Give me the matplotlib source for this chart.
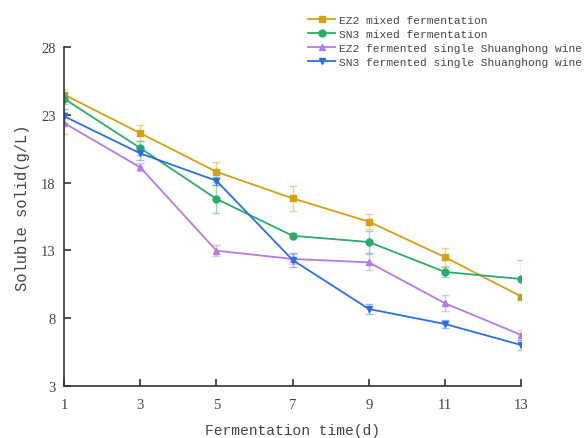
import matplotlib
matplotlib.use("Agg")
import matplotlib.pyplot as plt

days = [1, 3, 5, 7, 9, 11, 13]
ez2_mixed = [24.5, 21.65, 18.8, 16.84, 15.12, 12.5, 9.6]
ez2_mixed_err = [0.4, 0.6, 0.75, 0.9, 0.55, 0.65, 0.2]
sn3_mixed = [24.2, 20.55, 16.8, 14.08, 13.62, 11.41, 10.89]
sn3_mixed_err = [0.4, 0.5, 1.05, 0.2, 0.8, 0.4, 1.4]
ez2_single = [22.4, 19.13, 12.98, 12.37, 12.12, 9.1, 6.76]
ez2_single_err = [0.8, 0.3, 0.4, 0.4, 0.6, 0.6, 0.4]
sn3_single = [22.9, 20.16, 18.14, 12.29, 8.68, 7.57, 6.02]
sn3_single_err = [0.5, 0.5, 0.3, 0.5, 0.4, 0.3, 0.4]

labels = ["EZ2 mixed fermentation", "SN3 mixed fermentation",
          "EZ2 fermented single Shuanghong wine", "SN3 fermented single Shuanghong wine"]
colors = ["#D4A017", "#2EAA6A", "#B57BE3", "#2C6FE0"]
markers = ["s", "o", "^", "v"]

xticks = [1, 3, 5, 7, 9, 11, 13]
yticks = [3, 8, 13, 18, 23, 28]

fig = plt.figure(figsize=(5.87, 4.39), dpi=100)
ax = fig.add_axes([0.109, 0.1185, 0.779, 0.772])

series = [(ez2_mixed, ez2_mixed_err), (sn3_mixed, sn3_mixed_err),
          (ez2_single, ez2_single_err), (sn3_single, sn3_single_err)]
handles = []
for (vals, err), c, m, lab in zip(series, colors, markers, labels):
    ax.errorbar(days, vals, yerr=err, fmt="none", ecolor=c, alpha=0.45,
                elinewidth=1.0, capsize=3, capthick=1.0)
    h, = ax.plot(days, vals, color=c, marker=m, markersize=5, linewidth=1.3, label=lab)
    handles.append(h)

ax.set_xlim(1, 13)
ax.set_ylim(3, 28)
ax.set_xticks(xticks)
ax.set_yticks(yticks)
ax.spines["top"].set_visible(False)
ax.spines["right"].set_visible(False)
for s in ["left", "bottom"]:
    ax.spines[s].set_linewidth(1.2)
    ax.spines[s].set_color("#333333")
ax.tick_params(direction="in", length=5, width=1.2, color="#333333",
               labelsize=10.5, labelcolor="#444444")
ax.tick_params(axis="x", pad=9)
ax.tick_params(axis="y", pad=6)
for t in ax.get_xticklabels() + ax.get_yticklabels():
    t.set_family("Liberation Serif")

ax.set_xlabel("Fermentation time(d)", family="Liberation Mono", fontsize=10.5,
              color="#444444", labelpad=8)
ax.set_ylabel("Soluble solid(g/L)", family="Liberation Mono", fontsize=11.2,
              color="#444444")
ax.yaxis.set_label_coords(-0.075, 0.53)

fig.legend(handles=handles, loc="upper left", bbox_to_anchor=(0.508, 0.987),
           frameon=False, prop={"family": "Liberation Mono", "size": 8.1},
           handlelength=2.4, handletextpad=0.3, labelspacing=0.36,
           labelcolor="#444444")

fig.savefig("out.png", dpi=100)
